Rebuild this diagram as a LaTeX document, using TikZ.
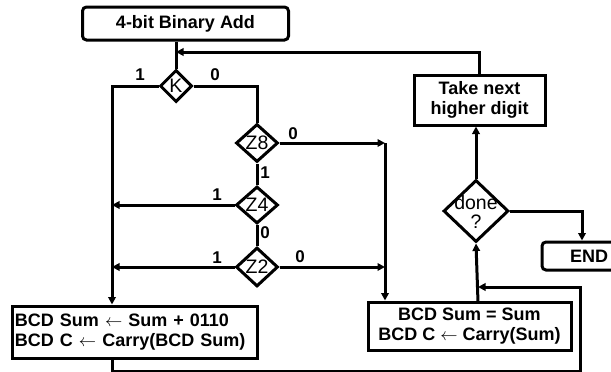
\documentclass[tikz,border=0pt]{standalone}
\usepackage{fontspec}
\setmainfont{Liberation Sans}
\usetikzlibrary{shapes.geometric,arrows.meta}
\begin{document}
\begin{tikzpicture}[x=1pt,y=-1pt,
  ln/.style={line width=3pt},
  arr/.style={ln,-{Triangle[length=7.5pt,width=7.5pt]}},
  boxr/.style={draw,line width=3pt,rounded corners=4pt,inner sep=0pt},
  boxs/.style={draw,line width=3pt,inner sep=0pt},
  dia/.style={draw,line width=3pt,diamond,inner sep=0pt},
  btxt/.style={font=\fontsize{18}{20}\selectfont\bfseries},
  dtxt/.style={font=\fontsize{19.5}{19}\selectfont,inner sep=0pt,align=center},
  lbl/.style={font=\fontsize{17}{17}\selectfont\bfseries,inner sep=0pt}]
\useasboundingbox (0,0) rectangle (611,372);
% boxes
\node[boxr,minimum width=206pt,minimum height=33pt,btxt] (start) at (185.5,23.5) {4-bit Binary Add};
\node[boxs,minimum width=131pt,minimum height=50pt,btxt,align=center] (take) at (479.5,100) {Take next\\higher digit};
\node[boxs,minimum width=245pt,minimum height=52pt,btxt,align=left,text width=239pt,inner xsep=3pt] (lb) at (134.5,332) {BCD Sum $\leftarrow$ Sum + 0110\\BCD C $\leftarrow$ Carry(BCD Sum)};
\node[boxs,minimum width=203pt,minimum height=48pt,btxt,align=center] (rb) at (469.5,326) {BCD Sum = Sum\\BCD C $\leftarrow$ Carry(Sum)};
\node[boxr,minimum width=90pt,minimum height=28pt] (endb) at (587,256) {};
\node[btxt,inner sep=0pt] (endt) at (589,256) {END};
% diamonds
\node[dia,minimum width=32pt,minimum height=32pt] (K) at (176,86) {};
\node[dtxt] (Kt) at (K) {K};
\node[dia,minimum width=42pt,minimum height=38pt] (Z8) at (257,143) {};
\node[dtxt] (Z8t) at (Z8) {Z8};
\node[dia,minimum width=42pt,minimum height=37pt] (Z4) at (257,205) {};
\node[dtxt] (Z4t) at (Z4) {Z4};
\node[dia,minimum width=42pt,minimum height=39pt] (Z2) at (257,267) {};
\node[dtxt] (Z2t) at (Z2) {Z2};
\node[dia,minimum width=65pt,minimum height=62pt] (done) at (476,211) {};
\node[dtxt] (donet) at (476,212) {done\\?};
% coordinates
\coordinate (j) at (176,52);
\coordinate (lx) at (112,86);
\coordinate (c1) at (385,143);
\coordinate (c2) at (385,267);
\coordinate (l4) at (112,205);
\coordinate (l2) at (112,267);
\coordinate (b1) at (112,371);
\coordinate (b2) at (580,371);
\coordinate (b3) at (580,287);
\coordinate (b4) at (478,287);
\coordinate (rt) at (478,302);
\coordinate (e1) at (582,211);
% connectors
\draw[ln] (start.south -| K) -- (K.north);
\draw[arr] (take.north) |- (j);
\draw[arr] (K.west) -- (lx) -- (lb.north -| lx);
\draw[ln] (K.east) -| (Z8.north);
\draw[arr] (Z8.east) -- (c1);
\draw[arr] (c1) -- (rb.north -| c1);
\draw[ln] (Z8.south) -- (Z4.north);
\draw[ln] (Z4.south) -- (Z2.north);
\draw[arr] (Z4.west) -- (l4);
\draw[arr] (Z2.west) -- (l2);
\draw[arr] (Z2.east) -- (c2);
\draw[arr] (lb.south -| b1) -- (b1) -- (b2) -- (b3) -- (b4);
\draw[arr] (rt) -- (done.south);
\draw[arr] (done.north) -- (take.south -| done.north);
\draw[arr] (done.east) -| (endb.north -| e1);
% labels
\node[lbl] (k1) at (140,75) {1};
\node[lbl] (k0) at (215,75) {0};
\node[lbl] (z80) at (293,134) {0};
\node[lbl] (z81) at (265,173) {1};
\node[lbl] (z41) at (217,195) {1};
\node[lbl] (z40) at (265,233) {0};
\node[lbl] (z21) at (217,258) {1};
\node[lbl] (z20) at (300,257) {0};
\end{tikzpicture}
\end{document}
